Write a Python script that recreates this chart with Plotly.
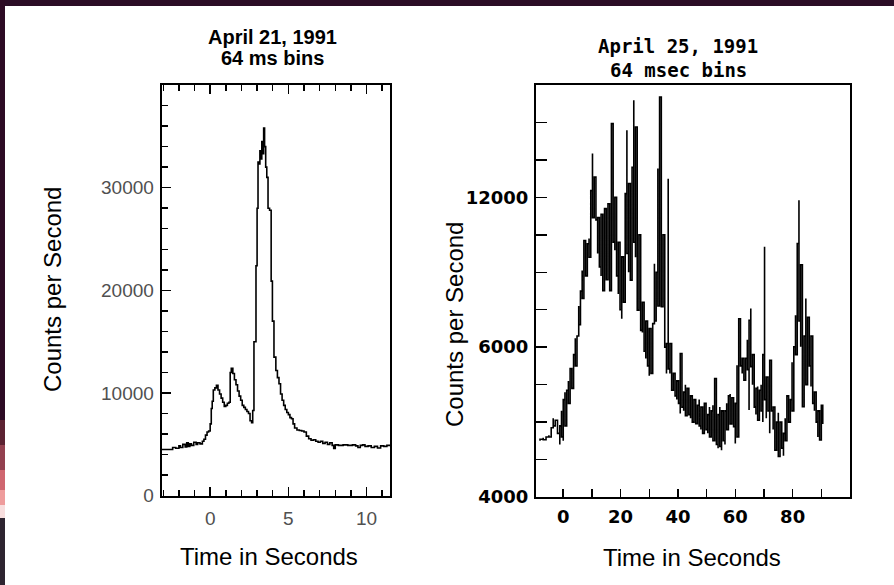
import plotly.graph_objects as go

# ---------------- Data ----------------
# Left panel: April 21, 1991 (64 ms bins) - time (s) and counts per second (step histogram)
T1 = [-3.1, -2.5, -2.4, -2.2, -2.0, -1.9, -1.75, -1.6, -1.5, -1.4, -1.3, -1.2, -1.05, -0.9, -0.8,
      -0.65, -0.5, -0.4, -0.3, -0.2, -0.1, 0.0, 0.07, 0.13, 0.2, 0.3, 0.4, 0.5, 0.6, 0.7, 0.8,
      0.9, 1.0, 1.1, 1.2, 1.28, 1.35, 1.45, 1.55, 1.65, 1.75, 1.85, 1.95, 2.05, 2.15, 2.25, 2.35,
      2.45, 2.55, 2.65, 2.72, 2.8, 2.93, 3.0, 3.06, 3.12, 3.18, 3.25, 3.3, 3.36, 3.42, 3.48, 3.55,
      3.62, 3.7, 3.8, 3.9, 3.98, 4.08, 4.2, 4.3, 4.4, 4.5, 4.6, 4.7, 4.8, 4.9, 5.0, 5.1, 5.2, 5.3,
      5.4, 5.55, 5.7, 5.85, 6.0, 6.15, 6.3, 6.45, 6.6, 6.75, 6.9, 7.05, 7.2, 7.35, 7.5, 7.65, 7.8,
      7.9, 8.0, 8.2, 8.5, 8.8, 9.1, 9.3, 9.45, 9.6, 9.75, 9.9, 10.1, 10.3, 10.5, 10.7, 10.9, 11.1,
      11.3, 11.5]
C1 = [4500, 4500, 4700, 4620, 4850, 4700, 5000, 4750, 5150, 4800, 5050, 4900, 5200, 5000, 5150,
      5050, 5300, 5500, 5900, 6200, 6300, 7000, 8500, 9200, 10300, 10500, 10750, 10300, 9900, 9500, 9100,
      8700, 8800, 9000, 9100, 12000, 12400, 11900, 11300, 10800, 10200, 9700, 9300, 8800, 8600, 8400, 8200,
      8000, 7300, 7100, 8300, 15000, 22400, 28000, 32500, 32300, 33600, 32800, 34500, 33300, 35800, 34000, 32000,
      31000, 28000, 27800, 20900, 17000, 13500, 12200, 11500, 10900, 9900, 9300, 8800, 8400, 8100, 7900, 7600, 7500, 7000,
      6600, 6400, 6350, 6300, 6200, 5800, 5550, 5400, 5450, 5300, 5200, 5300, 5100, 5200, 5000, 5150, 4900,
      4600, 4950, 4900, 4950, 4900, 4950, 4850, 4700, 4900, 4950, 4800, 4850, 4700, 4800, 4650, 4850, 4800,
      4900, 4950]

# Right panel: April 25, 1991 (64 msec bins) - per time slice, low and high extent of the
# rapidly fluctuating light curve (counts per second)
T2 = [-8.1, -7.0, -6.0, -5.0, -4.2, -3.5, -2.8, -2.0, -1.2, -0.6, 0.0, 0.6, 1.2, 1.8, 2.4, 3.0,
      3.6, 4.2, 4.8, 5.4, 6.0, 6.6, 7.2, 7.8, 8.4, 9.0, 9.6, 10.2, 10.8, 11.4, 12.0, 12.6, 13.2,
      13.8, 14.4, 15.0, 15.6, 16.2, 16.8, 17.4, 18.0, 18.6, 19.2, 19.8, 20.4, 21.0, 21.6, 22.2,
      22.8, 23.4, 24.0, 24.6, 25.2, 25.8, 26.4, 27.0, 27.6, 28.2, 28.8, 29.4, 30.0, 30.6, 31.2,
      31.8, 32.4, 33.0, 33.6, 34.2, 34.8, 35.4, 36.0, 36.6, 37.2, 37.8, 38.4, 39.0, 39.6, 40.2,
      40.8, 41.4, 42.0, 42.6, 43.2, 43.8, 44.4, 45.0, 45.6, 46.2, 46.8, 47.4, 48.0, 48.6, 49.2,
      49.8, 50.4, 51.0, 51.6, 52.2, 52.8, 53.4, 54.0, 54.6, 55.2, 55.8, 56.4, 57.0, 57.6, 58.2,
      58.8, 59.4, 60.0, 60.6, 61.2, 61.8, 62.4, 63.0, 63.6, 64.2, 64.8, 65.4, 66.0, 66.6, 67.2,
      67.8, 68.4, 69.0, 69.6, 70.2, 70.8, 71.4, 72.0, 72.6, 73.2, 73.8, 74.4, 75.0, 75.6, 76.2,
      76.8, 77.4, 78.0, 78.6, 79.2, 79.8, 80.4, 81.0, 81.6, 82.2, 82.8, 83.4, 84.0, 84.6, 85.2,
      85.8, 86.4, 87.0, 87.6, 88.2, 88.8, 89.4, 90.0, 90.5]
LO2 = [5500, 5530, 5560, 5600, 5650, 5900, 5950, 5700, 5400, 5600, 5500, 5900, 6300, 6500, 6850, 6900,
       7200, 7500, 7800, 8600, 8900, 9300, 9430, 9900, 10140, 10400, 11430, 11460, 11500, 11400, 10500, 10140, 9900,
       9510, 9700, 9800, 10000, 9510, 10590, 10800, 10590, 9900, 9420, 9000, 8760, 9200, 9970, 10500,
       10000, 9790, 10200, 10800, 10400, 8990, 9200, 8450, 8390, 7890, 7700, 7500, 7240, 7300, 7500,
       8700, 8800, 9100, 12770, 9080, 9080, 8000, 7300, 7420, 7300, 6850, 6900, 6700, 6600, 6500,
       6230, 6400, 6300, 6170, 6300, 6200, 6100, 6000, 6050, 5960, 6000, 5900, 5800, 5700, 5750,
       5800, 5700, 5600, 5650, 5500, 5550, 5400, 5300, 5350, 5250, 5500, 5400, 5800, 5900, 5950,
       6000, 5880, 5430, 5600, 7200, 7500, 7300, 7120, 7100, 7400, 6320, 7480, 7000, 6400, 6200,
       6050, 6100, 6300, 6000, 6600, 6100, 6300, 5700, 6300, 5800, 5250, 5400, 5080, 5500, 5300,
       5100, 5500, 5700, 6000, 6200, 6300, 6500, 7800, 8000, 8700, 8010, 6410, 7800, 7000, 8000,
       7500, 6950, 6500, 6300, 6000, 5600, 5520, 5700, 5950]
HI2 = [5540, 5580, 5600, 5650, 5850, 6100, 6050, 6050, 5900, 6300, 6600, 6800, 6850, 7100, 7430, 7300,
       7800, 8240, 8300, 9100, 9500, 10050, 10850, 10700, 10760, 10900, 12180, 13170, 12540, 12300, 11460, 11300, 11550,
       11100, 11700, 11400, 11830, 11500, 13970, 13170, 12000, 11370, 10800, 10600, 10410, 10200, 12100, 13790,
       12370, 12000, 12800, 14590, 13880, 11650, 11000, 9520, 9200, 8860, 8700, 8600, 8500, 8300, 8630,
       10230, 10000, 12770, 14680, 12770, 11000, 9000, 8100, 12500, 8100, 7340, 7300, 7100, 7100, 7000,
       7830, 6900, 6800, 7000, 6900, 6800, 6700, 6700, 6600, 6500, 6450, 6600, 6400, 6300, 6500,
       6350, 6200, 6400, 6300, 6450, 7165, 6300, 6200, 6400, 6300, 6150, 6300, 6500, 6700, 6750,
       6650, 6600, 6500, 7520, 8760, 7900, 7700, 7600, 7700, 8200, 8720, 9030, 7800, 7000, 6900,
       6950, 6850, 7000, 7800, 10680, 7200, 7000, 7650, 6700, 6400, 6200, 6000, 6250, 6000, 5900,
       5700, 6100, 6700, 6500, 6600, 7600, 8010, 8850, 10770, 11920, 10200, 8010, 8300, 9300, 8800,
       8400, 8300, 7400, 6800, 6400, 6300, 6000, 6450, 6150]

LEFT_XTICKS = [0, 5, 10]
LEFT_YTICKS = [0, 10000, 20000, 30000]
RIGHT_XTICKS = [0, 10, 20, 30, 40, 50, 60, 70, 80, 90]
RIGHT_XLABELS = ["0", "", "20", "", "40", "", "60", "", "80", ""]
RIGHT_YTICKS = [4000, 5000, 6000, 7000, 8000, 9000, 10000, 11000, 12000, 13000, 14000]
RIGHT_YLABELS = ["4000", "", "", "", "6000", "", "", "", "12000", "", ""]

W, H = 894, 585


def px(x):
    return x / W


def py(y):
    return 1 - y / H


# Build the band for the right panel (alternate low/high per slice)
xs2, ys2 = [], []
for i, (t, lo, hi) in enumerate(zip(T2, LO2, HI2)):
    xs2 += [t, t]
    ys2 += [lo, hi] if i % 2 == 0 else [hi, lo]

fig = go.Figure()
fig.add_trace(go.Scatter(x=T1, y=C1, mode="lines", line=dict(color="black", width=1.6, shape="hv"),
                         xaxis="x", yaxis="y", showlegend=False, hoverinfo="skip"))
fig.add_trace(go.Scatter(x=xs2, y=ys2, mode="lines", line=dict(color="black", width=1.6, shape="hv"),
                         xaxis="x2", yaxis="y2", showlegend=False, hoverinfo="skip"))

left_tick_font = dict(family="Liberation Sans, Arial, sans-serif", size=19, color="#505050")
right_tick_font = dict(family="DejaVu Sans, sans-serif", size=18, color="black", weight="bold")

fig.update_layout(
    width=W, height=H,
    margin=dict(l=0, r=0, t=0, b=0),
    paper_bgcolor="white", plot_bgcolor="white",
    showlegend=False,
    xaxis=dict(domain=[px(161.7), px(390)], anchor="y", range=[-3.1, 11.5],
               showgrid=False, zeroline=False, showline=True, linecolor="black", linewidth=2,
               mirror="ticks", ticks="inside", ticklen=9, tickwidth=1.5, tickcolor="black",
               tickmode="array", tickvals=LEFT_XTICKS, ticktext=[str(v) for v in LEFT_XTICKS],
               tickfont=left_tick_font, ticklabelstandoff=4,
               minor=dict(dtick=1, tick0=0, ticks="inside", ticklen=6, tickwidth=1.5, tickcolor="black"),
               automargin=False),
    yaxis=dict(domain=[py(495.7), py(85)], anchor="x", range=[0, 40000],
               showgrid=False, zeroline=False, showline=True, linecolor="black", linewidth=2,
               mirror=True, ticks="inside", ticklen=9, tickwidth=1.5, tickcolor="black",
               tickmode="array", tickvals=LEFT_YTICKS, ticktext=[str(v) for v in LEFT_YTICKS],
               tickfont=left_tick_font, ticklabelstandoff=2,
               minor=dict(dtick=2000, tick0=0, ticks="inside", ticklen=6, tickwidth=1.5, tickcolor="black"),
               automargin=False),
    xaxis2=dict(domain=[px(536), px(850)], anchor="y2", range=[-9.5, 100],
                showgrid=False, zeroline=False, showline=True, linecolor="black", linewidth=2,
                mirror=True, ticks="inside", ticklen=8, tickwidth=1.5, tickcolor="black",
                tickmode="array", tickvals=RIGHT_XTICKS, ticktext=RIGHT_XLABELS,
                tickfont=right_tick_font, ticklabelstandoff=2, automargin=False),
    yaxis2=dict(domain=[py(497), py(85)], anchor="x2", range=[4000, 15000],
                showgrid=False, zeroline=False, showline=True, linecolor="black", linewidth=2,
                mirror=True, ticks="inside", ticklen=11, tickwidth=1.5, tickcolor="black",
                tickmode="array", tickvals=RIGHT_YTICKS, ticktext=RIGHT_YLABELS,
                tickfont=right_tick_font, ticklabelstandoff=2, automargin=False),
)

title_font_l = dict(family="Liberation Sans, Arial, sans-serif", size=20, color="black")
title_font_r = dict(family="DejaVu Sans Mono, monospace", size=19, color="black")
axis_font = dict(family="Liberation Sans, Arial, sans-serif", size=24, color="black")

annotations = [
    dict(text="<b>April 21, 1991</b>", x=px(272.5), y=py(37), font=title_font_l),
    dict(text="<b>64 ms bins</b>", x=px(272.5), y=py(58), font=title_font_l),
    dict(text="<b>April 25, 1991</b>", x=px(678), y=py(46), font=title_font_r),
    dict(text="<b>64 msec bins</b>", x=px(678), y=py(70), font=title_font_r),
    dict(text="Counts per Second", x=px(52), y=py(290), textangle=-90, font=axis_font),
    dict(text="Counts per Second", x=px(454), y=py(325), textangle=-90, font=axis_font),
    dict(text="Time in Seconds", x=px(269), y=py(556), font=axis_font),
    dict(text="Time in Seconds", x=px(692), y=py(557), font=axis_font),
]
for a in annotations:
    a.update(xref="paper", yref="paper", xanchor="center", yanchor="middle", showarrow=False)
fig.update_layout(annotations=annotations)

# Dark page border visible at the top and left edges of the screenshot
BORDER = [
    (0, 0, 894, 6, "#2b0d26"),
    (0, 0, 5, 420, "#2d0b24"),
    (0, 420, 5, 445, "#5c2232"),
    (0, 445, 5, 470, "#93404f"),
    (0, 470, 5, 490, "#cf6670"),
    (0, 490, 5, 505, "#ee9c9c"),
    (0, 505, 5, 518, "#f8dede"),
    (0, 518, 5, 585, "#2e2430"),
]
shapes = []
for x0, y0, x1, y1, c in BORDER:
    shapes.append(dict(type="rect", xref="paper", yref="paper", x0=px(x0), x1=px(x1),
                       y0=py(y1), y1=py(y0), fillcolor=c, line=dict(width=0), layer="above"))
fig.update_layout(shapes=shapes)

fig.write_html("out.html",
               config={"displayModeBar": False, "staticPlot": True},
               post_script="document.body.style.margin='0';document.body.style.overflow='hidden';")
